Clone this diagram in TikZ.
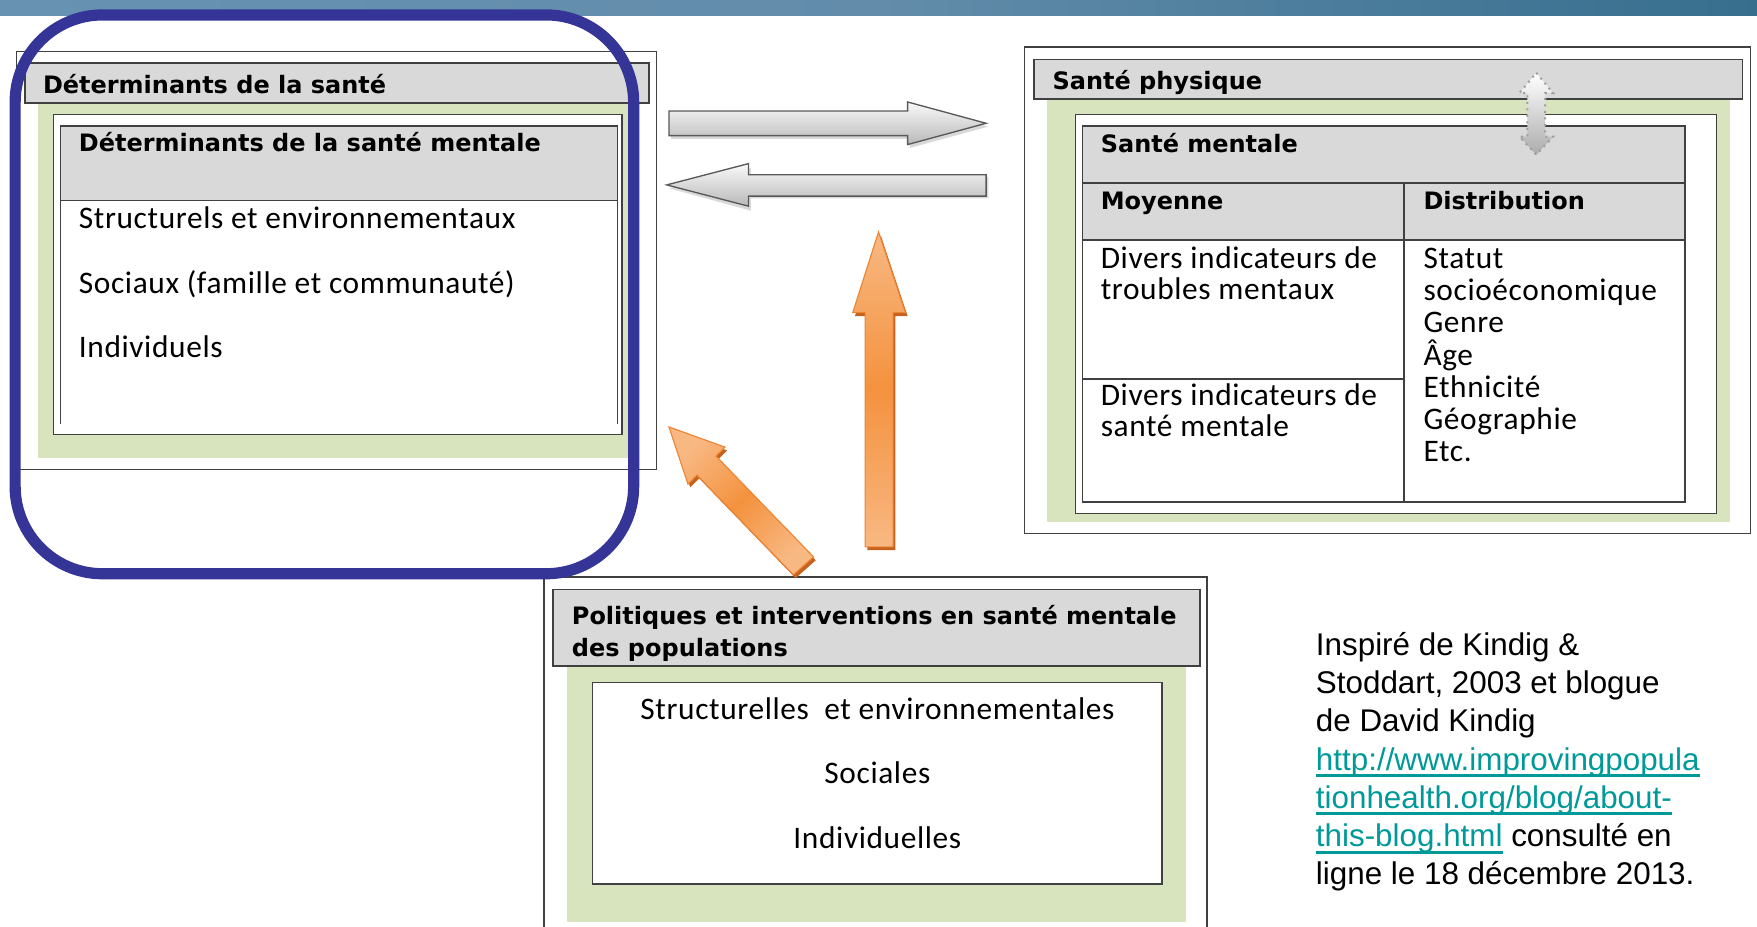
\documentclass[tikz,border=0pt]{standalone}
\usepackage{fontspec}
\setmainfont{Carlito}[LetterSpace=2]
\newfontfamily\headfont{DejaVu Sans}
\newfontfamily\citefont{Liberation Sans}
\usepackage{xcolor}
\usetikzlibrary{positioning, calc}

\definecolor{hdrgray}{RGB}{217,217,217}
\definecolor{sage}{RGB}{215,228,189}
\definecolor{framegray}{RGB}{64,64,64}
\definecolor{ringblue}{RGB}{53,53,152}
\definecolor{linkteal}{RGB}{0,153,153}
\definecolor{bandleft}{RGB}{104,146,178}
\definecolor{bandmid}{RGB}{98,140,170}
\definecolor{bandright}{RGB}{55,110,142}
\definecolor{orangedeep}{RGB}{244,146,62}
\definecolor{orangelight}{RGB}{248,184,130}
\definecolor{orangeedge}{RGB}{236,132,52}
\definecolor{orangeshadow}{RGB}{196,98,30}

\newcommand{\weblink}[1]{\textcolor{linkteal}{\setbox0=\hbox{#1}\rlap{\rule[-3.1pt]{\wd0}{1.3pt}}\box0}}

\tikzset{
  framebox/.style={draw=framegray, line width=0.6pt},
  hdrbox/.style={draw=framegray, fill=hdrgray, line width=0.8pt},
  tableline/.style={draw=framegray, line width=0.8pt},
  headtxt/.style={anchor=base west, inner sep=0pt, font=\headfont\bfseries\fontsize{10.7}{12}\selectfont},
  bodytxt/.style={anchor=base west, inner sep=0pt, font=\fontsize{14}{16}\selectfont},
  grayarrow/.style={top color=gray!5, bottom color=gray!55, draw=gray!70!black, line width=0.6pt},
  orangearrow/.style={top color=orangelight, bottom color=orangelight, middle color=orangedeep, draw=orangeedge, line width=0.5pt},
}

\begin{document}
\begin{tikzpicture}[x=0.5pt,y=-0.5pt]
  \useasboundingbox (0,0) rectangle (1568,827);

  % Band along the top edge
  \shade[left color=bandleft, right color=bandright, middle color=bandmid] (0,0) rectangle (1568,13.4);

  % Left group: determinants
  \draw[framebox, fill=white] (15,46) rectangle (586,419);
  \fill[sage] (34,92) rectangle (562,409);
  \draw[hdrbox] (22,56) rectangle (579,92);
  \draw[framebox, fill=white] (48,102) rectangle (555,388);
  \fill[hdrgray] (54,112.5) rectangle (551,179);
  \draw[tableline] (54,378) -- (54,112.5) -- (551,112.5) -- (551,378);
  \draw[tableline] (54,179) -- (551,179);

  % Right group: physical and mental health
  \draw[framebox, fill=white] (914.5,42) rectangle (1562,476);
  \fill[sage] (934,88) rectangle (1544,466);
  \draw[hdrbox] (923,53) rectangle (1555,88);
  \draw[framebox, fill=white] (960,102) rectangle (1532,458);
  \fill[hdrgray] (966,112.5) rectangle (1504,214);
  \draw[tableline] (966,112.5) rectangle (1504,448);
  \draw[tableline] (966,163) -- (1504,163);
  \draw[tableline] (966,214) -- (1504,214);
  \draw[tableline] (1253,163) -- (1253,448);
  \draw[tableline] (966,338) -- (1253,338);

  % Bottom group: policies
  \draw[framebox] (485.6,830) -- (485.6,515) -- (1077,515) -- (1077,830);
  \fill[sage] (506,594) rectangle (1058,823);
  \draw[hdrbox] (493.5,526) rectangle (1071,594);
  \draw[framebox, fill=white] (529,609) rectangle (1037,789);

  % Gray arrows between the two top groups
  \fill[gray!30] (599,102) -- (812,102) -- (812,94) -- (882,113) -- (812,132) -- (812,124) -- (599,124) -- cycle;
  \shade[grayarrow] (597,99) -- (810,99) -- (810,91) -- (880,110) -- (810,129) -- (810,121) -- (597,121) -- cycle;
  \fill[gray!30] (597,168) -- (670,150) -- (670,158) -- (882,158) -- (882,177) -- (670,177) -- (670,188) -- cycle;
  \shade[grayarrow] (595,165) -- (668,146) -- (668,156) -- (880,156) -- (880,175) -- (668,175) -- (668,184) -- cycle;

  % Dotted double arrow
  \shade[top color=white, bottom color=gray!65, draw=gray!75, dotted, line width=0.9pt]
    (1371,65) -- (1386,83) -- (1379,83) -- (1379,122) -- (1386,122) -- (1371,138)
    -- (1356,122) -- (1363,122) -- (1363,83) -- (1356,83) -- cycle;

  % Orange arrows from the policies
  \fill[orangeshadow] (786,210) -- (810,282) -- (799,282) -- (799,491) -- (774,491) -- (774,282) -- (763,282) -- cycle;
  \shade[orangearrow] (784,207) -- (808,279) -- (797,279) -- (797,488) -- (772,488) -- (772,279) -- (761,279) -- cycle;
  \fill[orangeshadow] (599,384) -- (649,402) -- (641,410) -- (728,500) -- (710,516) -- (624,427) -- (616,435) -- cycle;
  \shade[orangearrow, shading angle=45] (597,381) -- (647,399) -- (639,407) -- (726,497) -- (708,513) -- (622,424) -- (614,432) -- cycle;

  % Blue ring round the determinants
  \draw[ringblue, line width=5pt, rounded corners=39pt] (13.5,13.3) rectangle (565.5,512);

  % Texts of the left group
  \node[headtxt] (detsante) at (38,83) {Déterminants de la santé};
  \node[headtxt] (detmentale) at (70,135.5) {Déterminants de la santé mentale};
  \node[bodytxt] (structurels) at (70,204) {Structurels et environnementaux};
  \node[bodytxt] (sociaux) at (70,262) {Sociaux (famille et communauté)};
  \node[bodytxt] (individuels) at (70,319) {Individuels};

  % Texts of the right group
  \node[headtxt] (physique) at (939,79.6) {Santé physique};
  \node[headtxt] (mentale) at (982,136) {Santé mentale};
  \node[headtxt] (moyenne) at (982,187) {Moyenne};
  \node[headtxt] (distrib) at (1270,187) {Distribution};
  \node[bodytxt] (troublesa) at (982,239.5) {Divers indicateurs de};
  \node[bodytxt] (troublesb) at (982,267.5) {troubles mentaux};
  \node[bodytxt] (positifa) at (982,361.5) {Divers indicateurs de};
  \node[bodytxt] (positifb) at (982,389.5) {santé mentale};
  \foreach \txt [count=\i] in {Statut, socioéconomique, Genre, Âge, Ethnicité, Géographie, Etc.}
    \node[bodytxt] (dist\i) at (1270,{211+28.7*\i}) {\txt};

  % Texts of the bottom group
  \node[headtxt] (politiques) at (510,557) {Politiques et interventions en santé mentale};
  \node[headtxt] (populations) at (510,586) {des populations};
  \node[bodytxt, anchor=base] (structurelles) at (783,642.5) {Structurelles~ et environnementales};
  \node[bodytxt, anchor=base] (sociales) at (783,699.5) {Sociales};
  \node[bodytxt, anchor=base] (individuelles) at (783,757.5) {Individuelles};

  % Source
  \node[anchor=north west, inner sep=0pt, align=left, font=\citefont\fontsize{14}{17.05}\selectfont] (source) at (1174,564)
    {Inspiré de Kindig \&\\
     Stoddart, 2003 et blogue\\
     de David Kindig\\
     \weblink{http://www.improvingpopula}\\
     \weblink{tionhealth.org/blog/about-}\\
     \weblink{this-blog.html} consulté en\\
     ligne le 18 décembre 2013.};
\end{tikzpicture}
\end{document}
